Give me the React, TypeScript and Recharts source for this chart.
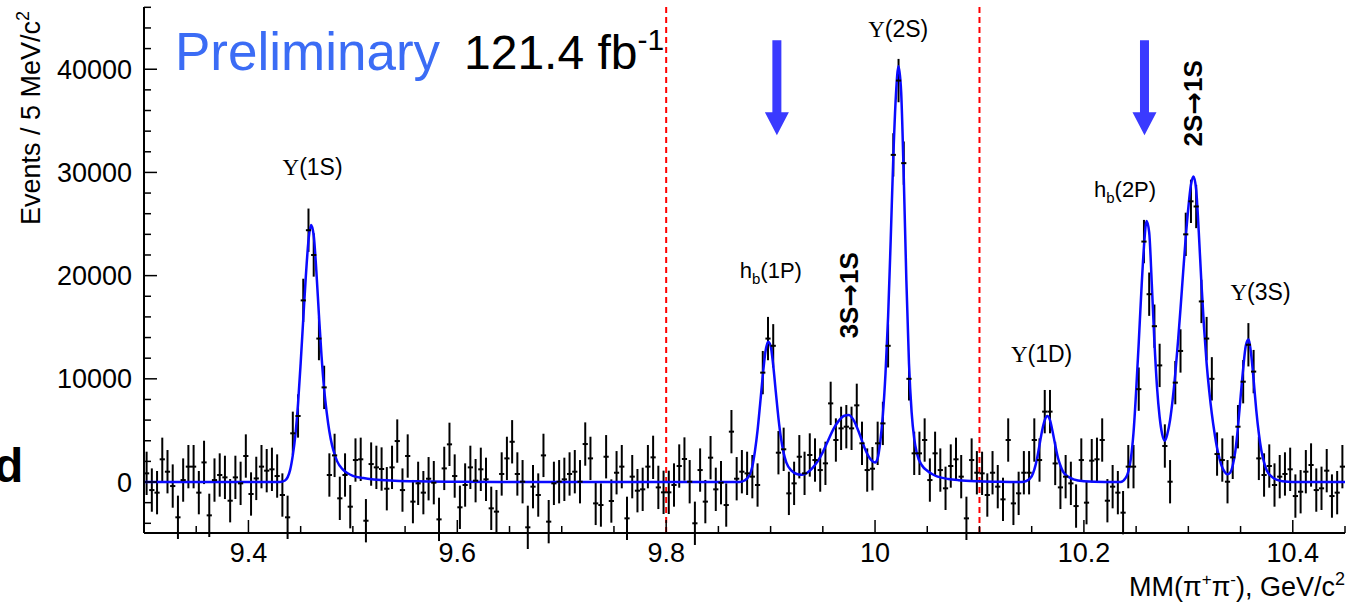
import React from 'react';
import { ComposedChart, Scatter, Line, XAxis, YAxis, ErrorBar, ReferenceLine, ReferenceDot } from 'recharts';

// 5 MeV bins starting at 9.30 GeV
const BIN_START = 9.3;
const BIN_WIDTH = 0.005;

// background-subtracted events per bin
const EVENTS = [
  840, -780, -1030, 2200, 1000, -390, -3420, 190, 1490, 1490,
  -1030, 1900, -3230, 190, 680, 450, -1810, 450, -130, 2520,
  -1160, 350, 1490, 1100, 1230, 580, -1260, -3420, 4720, 6400,
  17600, 24400, 22000, 13900, 9170, 680, 2580, -1580, 680, -2390,
  2130, 2200, -3750, 1740, 1420, 1260, -650, 1420, 3970, -780,
  2520, -1900, -130, -1030, 320, -65, -3620, 1320, 3650, 580,
  -2450, -290, 1420, 130, 1230, 260, -2550, -2870, 780, 2290,
  3900, 780, 30, -4390, -450, -1260, 2580, -3840, -130, 30,
  260, 780, 1000, 30, 3680, 2290, -2070, -2230, 2450, -1840,
  900, 1490, -3520, 520, -840, -710, 1490, 2390, -520, -1000,
  -1000, -290, 1550, 2230, 30, -4000, 1160, -1900, 2360, -710,
  -65, -2230, 4880, 320, 1000, 840, 520, -290, 10600, 13900,
  13200, 2840, 3170, -1100, -130, 2450, 840, 2620, 2130, 1160,
  1810, 7620, 4070, 5200, 5360, 5200, 7430, 3750, 1160, 1290,
  3750, 5680, 13200, 31700, 38900, 30900, 10000, 2780, 2780, 4070,
  190, 2780, 1160, -610, 1550, 2200, 520, -3520, 2130, 900,
  840, -1260, 900, -450, -1680, 4070, -2070, -1100, 900, 900,
  4070, 2130, 6820, 6820, 1800, -520, 520, -130, -2330, 2130,
  -2000, 2070, 2200, 4070, -1810, -450, -1030, -2970, 1490, 1490,
  9000, 23300, 18200, 15100, 11300, 3490, 30, 9630, 12700, 24000,
  27200, 26700, 17500, 13900, 10000, 2710, 2130, 30, 2390, 5360,
  9720, 13300, 10700, 2290, 680, 1550, -290, 520, 780, 1230,
  -1360, -940, 1000, 1650, -780, -610, 1100, -1360, -1030, 1490,
];
const EVENT_ERROR = 2100;

// fit curve
const FIT_MASS = [
  9.3, 9.35, 9.4, 9.43, 9.435, 9.44, 9.4425, 9.445, 9.4475, 9.45,
  9.4525, 9.455, 9.4575, 9.46, 9.4625, 9.465, 9.4675, 9.47, 9.4725, 9.475,
  9.4775, 9.48, 9.4825, 9.485, 9.49, 9.495, 9.5, 9.51, 9.52, 9.54,
  9.56, 9.6, 9.65, 9.7, 9.8, 9.87, 9.875, 9.88, 9.8825, 9.885,
  9.8875, 9.89, 9.8925, 9.895, 9.8975, 9.9, 9.9025, 9.905, 9.9075, 9.91,
  9.9125, 9.915, 9.92, 9.925, 9.93, 9.935, 9.94, 9.945, 9.95, 9.955,
  9.96, 9.965, 9.97, 9.975, 9.98, 9.985, 9.99, 9.995, 10.0, 10.0025,
  10.005, 10.0075, 10.01, 10.0125, 10.015, 10.0175, 10.02, 10.0225, 10.025, 10.0275,
  10.03, 10.0325, 10.035, 10.0375, 10.04, 10.045, 10.05, 10.055, 10.06, 10.07,
  10.08, 10.1, 10.12, 10.14, 10.145, 10.15, 10.1525, 10.155, 10.1575, 10.16,
  10.1625, 10.165, 10.1675, 10.17, 10.1725, 10.175, 10.1775, 10.18, 10.185, 10.19,
  10.2, 10.22, 10.235, 10.24, 10.2425, 10.245, 10.2475, 10.25, 10.2525, 10.255,
  10.2575, 10.26, 10.2625, 10.265, 10.2675, 10.27, 10.2725, 10.275, 10.2775, 10.28,
  10.2825, 10.285, 10.2875, 10.29, 10.2925, 10.295, 10.2975, 10.3, 10.3025, 10.305,
  10.3075, 10.31, 10.3125, 10.315, 10.3175, 10.32, 10.3225, 10.325, 10.3275, 10.33,
  10.3325, 10.335, 10.3375, 10.34, 10.3425, 10.345, 10.3475, 10.35, 10.3525, 10.355,
  10.3575, 10.36, 10.3625, 10.365, 10.3675, 10.37, 10.3725, 10.375, 10.38, 10.385,
  10.39, 10.4, 10.45,
];
const FIT_EVENTS = [
  0, 0, 0, 0, 150, 1200, 2600, 4600, 7600, 11500,
  15800, 20000, 23400, 24900, 23900, 20500, 16200, 12200, 9000, 6700,
  4900, 3600, 2700, 2000, 1250, 850, 600, 380, 250, 130,
  70, 30, 10, 0, 0, 0, 150, 700, 1500, 3000,
  5000, 7600, 10300, 12600, 13600, 13200, 11300, 8700, 6200, 4200,
  2800, 1900, 1100, 780, 700, 900, 1350, 2000, 2900, 4000,
  5100, 5900, 6400, 6500, 5900, 4700, 3300, 2300, 1900, 2300,
  3900, 6500, 10500, 16000, 23500, 31500, 37500, 40300, 37800, 29500,
  19500, 11500, 6800, 4200, 2800, 1600, 1100, 750, 520, 300,
  180, 70, 20, 0, 100, 550, 1200, 2200, 3600, 5000,
  6000, 6400, 6000, 4900, 3600, 2400, 1600, 1000, 500, 260,
  80, 0, 0, 400, 1000, 2300, 4800, 8800, 13500, 18500,
  22800, 25300, 24200, 19200, 13600, 9200, 6300, 4600, 4000, 4700,
  6000, 8000, 10500, 13500, 16800, 20300, 23700, 26600, 28800, 29600,
  28300, 24200, 19300, 15000, 11500, 8800, 6600, 4800, 3300, 2200,
  1400, 950, 750, 900, 1600, 3000, 5300, 8200, 11000, 13200,
  13800, 12500, 9900, 7000, 4700, 3000, 1900, 1150, 500, 200,
  70, 0, 0,
];

const X_TICKS = [
  9.3, 9.35, 9.4, 9.45, 9.5, 9.55, 9.6, 9.65, 9.7, 9.75, 9.8, 9.85,
  9.9, 9.95, 10.0, 10.05, 10.1, 10.15, 10.2, 10.25, 10.3, 10.35, 10.4, 10.45,
];
const X_LABELS = [9.4, 9.6, 9.8, 10.0, 10.2, 10.4];
const Y_TICKS = [
  -4000, -2000, 0, 2000, 4000, 6000, 8000, 10000, 12000, 14000, 16000, 18000,
  20000, 22000, 24000, 26000, 28000, 30000, 32000, 34000, 36000, 38000, 40000,
  42000, 44000, 46000,
];
const Y_LABELS = [0, 10000, 20000, 30000, 40000];

const CUT_LINES = [9.8, 10.1];
const ARROWS = [
  { mass: 9.906, events: 33600 },
  { mass: 10.258, events: 33600 },
];
const PEAK_LABELS = [
  { mass: 9.4614, events: 29750, kind: 'ups', text: '(1S)' },
  { mass: 10.0222, events: 43100, kind: 'ups', text: '(2S)' },
  { mass: 9.9002, events: 19800, kind: 'hb', text: '(1P)' },
  { mass: 9.9746, events: 18100, kind: 'trans', text: '3S|1S' },
  { mass: 10.1595, events: 11600, kind: 'ups', text: '(1D)' },
  { mass: 10.2394, events: 27600, kind: 'hb', text: '(2P)' },
  { mass: 10.304, events: 36700, kind: 'trans', text: '2S|1S' },
  { mass: 10.3691, events: 17600, kind: 'ups', text: '(3S)' },
];

const binData = EVENTS.map((v, i) => ({
  mass: BIN_START + (i + 0.5) * BIN_WIDTH,
  events: v,
  err: EVENT_ERROR,
}));
const fitData = FIT_MASS.map((m, i) => ({ mass: m, fit: FIT_EVENTS[i] }));

const SANS = "'Liberation Sans', Arial, Helvetica, sans-serif";
const SERIF = "'Liberation Serif', 'Times New Roman', serif";

const isIn = (list: number[], v: number) => list.some((l) => Math.abs(l - v) < 1e-6);

const XTick = (props: any) => {
  const { x, y, payload } = props;
  const major = isIn(X_LABELS, payload.value);
  const label = Math.abs(payload.value - 10) < 1e-6 ? '10' : String(payload.value);
  return (
    <g>
      <line x1={x} x2={x} y1={y} y2={y - (major ? 13 : 7)} stroke="#000" strokeWidth={1.5} />
      {major && (
        <text x={x} y={y + 29} textAnchor="middle" fontSize={27} fill="#000" fontFamily={SANS}>
          {label}
        </text>
      )}
    </g>
  );
};

const YTick = (props: any) => {
  const { x, y, payload } = props;
  const major = isIn(Y_LABELS, payload.value);
  return (
    <g>
      <line x1={x} x2={x + (major ? 13 : 7)} y1={y} y2={y} stroke="#000" strokeWidth={1.5} />
      {major && (
        <text x={x - 12} y={y + 9.5} textAnchor="end" fontSize={27} fill="#000" fontFamily={SANS}>
          {payload.value}
        </text>
      )}
    </g>
  );
};

const BinMarker = (props: any) => {
  const { cx, cy } = props;
  if (cx == null || cy == null) return <g />;
  return <line x1={cx - 2.6} x2={cx + 2.6} y1={cy} y2={cy} stroke="#000" strokeWidth={2} />;
};

const ArrowShape = (props: any) => {
  const { cx, cy } = props;
  const pts = [
    [cx - 4.5, cy - 95], [cx + 4.5, cy - 95], [cx + 4.5, cy - 23], [cx + 12, cy - 23],
    [cx, cy], [cx - 12, cy - 23], [cx - 4.5, cy - 23],
  ].map((p) => p.join(',')).join(' ');
  return <polygon points={pts} fill="#3a3aff" />;
};

const makeLabel = (lab: any) => (props: any) => {
  const { cx, cy } = props;
  if (lab.kind === 'trans') {
    const [from, to] = lab.text.split('|');
    return (
      <text x={cx} y={cy} transform={`rotate(-90 ${cx} ${cy})`} textAnchor="middle" dominantBaseline="central"
        fontSize={26} fontWeight="bold" fontFamily={SANS} fill="#000">
        {from}<tspan fontFamily="'DejaVu Sans', sans-serif" fontSize={27}>→</tspan>{to}
      </text>
    );
  }
  if (lab.kind === 'hb') {
    return (
      <text x={cx} y={cy} textAnchor="middle" fontSize={22} fontFamily={SANS} fill="#000">
        h<tspan fontSize={15} dy={6}>b</tspan><tspan dy={-6}>{lab.text}</tspan>
      </text>
    );
  }
  return (
    <text x={cx} y={cy} textAnchor="middle" fontSize={23} fontFamily={SANS} fill="#000">
      <tspan fontFamily={SERIF}>Υ</tspan>{lab.text}
    </text>
  );
};

export default function App() {
  return (
    <div style={{ position: 'relative', width: 1354, height: 605, background: '#fff', fontFamily: SANS }}>
      <style>{'body{margin:0;}'}</style>
      <ComposedChart width={1354} height={605} margin={{ top: 7, right: 9, bottom: 0, left: 0 }}>
        <XAxis
          dataKey="mass" type="number" domain={[9.3, 10.45]} ticks={X_TICKS} interval={0}
          allowDataOverflow height={72} tickSize={0} tickMargin={0} tickLine={false}
          tick={<XTick />} axisLine={{ stroke: '#000', strokeWidth: 2 }}
        />
        <XAxis
          xAxisId="top" orientation="top" dataKey="mass" type="number" domain={[9.3, 10.45]}
          height={0} tick={false} tickLine={false} axisLine={{ stroke: '#000', strokeWidth: 2 }}
        />
        <YAxis
          type="number" domain={[-4940, 46030]} ticks={Y_TICKS} interval={0} allowDataOverflow
          width={144} tickSize={0} tickMargin={0} tickLine={false}
          tick={<YTick />} axisLine={{ stroke: '#000', strokeWidth: 2 }}
        />
        <YAxis
          yAxisId="right" orientation="right" type="number" domain={[-4940, 46030]}
          width={0} tick={false} tickLine={false} axisLine={{ stroke: '#000', strokeWidth: 2 }}
        />
        {CUT_LINES.map((m) => (
          <ReferenceLine key={m} x={m} stroke="#ff0000" strokeWidth={2} strokeDasharray="6 4" />
        ))}
        <Scatter data={binData} dataKey="events" shape={<BinMarker />} isAnimationActive={false}>
          <ErrorBar dataKey="err" direction="y" width={0} stroke="#000" strokeWidth={2} />
        </Scatter>
        <Line
          data={fitData} dataKey="fit" type="monotone" stroke="#0a0aff" strokeWidth={2.5}
          dot={false} activeDot={false} isAnimationActive={false}
        />
        {ARROWS.map((a) => (
          <ReferenceDot key={a.mass} x={a.mass} y={a.events} r={0} ifOverflow="visible" shape={ArrowShape} />
        ))}
        {PEAK_LABELS.map((lab) => (
          <ReferenceDot key={lab.text + lab.mass} x={lab.mass} y={lab.events} r={0} ifOverflow="visible" shape={makeLabel(lab)} />
        ))}
      </ComposedChart>
      <svg width={1354} height={605} style={{ position: 'absolute', left: 0, top: 0, pointerEvents: 'none' }}>
        <text x={175} y={70} fontSize={53} fill="#3b6cf5" fontFamily={SANS}>Preliminary</text>
        <text x={464} y={69} fontSize={48} fill="#000" fontFamily={SANS}>
          121.4 fb<tspan fontSize={30} dy={-19}>-1</tspan>
        </text>
        <text x={-6} y={482} fontSize={48} fontWeight="bold" fill="#000" fontFamily={SANS}>d</text>
        <text x={40} y={118} transform="rotate(-90 40 118)" textAnchor="middle" fontSize={27} fill="#000" fontFamily={SANS}>
          Events / 5 MeV/c<tspan fontSize={18} dy={-11}>2</tspan>
        </text>
        <text x={1345} y={596} textAnchor="end" fontSize={27} fill="#000" fontFamily={SANS}>
          MM(π<tspan fontSize={17} dy={-11}>+</tspan><tspan dy={11}>π</tspan><tspan fontSize={17} dy={-11}>-</tspan><tspan dy={11}>), GeV/c</tspan><tspan fontSize={18} dy={-11}>2</tspan>
        </text>
      </svg>
    </div>
  );
}
